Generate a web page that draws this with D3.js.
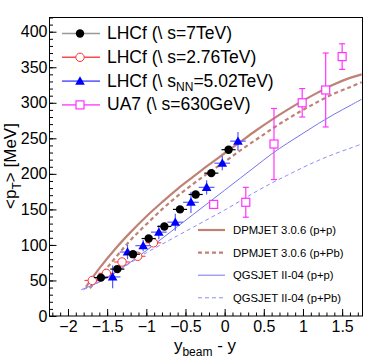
<!DOCTYPE html>
<html>
<head>
<meta charset="utf-8">
<script src="https://cdn.jsdelivr.net/npm/d3@7"></script>
<style>
  body { margin: 0; background: #fff; }
  svg { display: block; font-family: "Liberation Sans", Arial, sans-serif; }
</style>
</head>
<body>
<svg id="chart"></svg>
<script>
// LHCf measurements: bin centres in y_beam - y, <pT> in MeV, errors
const lhcf7X = [-1.58, -1.37, -1.17, -0.97, -0.77, -0.57, -0.37, -0.17, 0.05];
const lhcf7Y = [54, 66, 87, 109, 126, 150, 171, 201, 234];
const lhcf7Err = [3, 3, 3, 3, 3, 3, 3, 4, 4];

const lhcf276X = [-1.69, -1.51, -1.31, -1.11, -0.91];
const lhcf276Y = [50, 60, 76, 84, 103];
const lhcf276Err = [3, 3, 3, 3, 3];

const lhcf502X = [-1.43, -1.24, -1.04, -0.84, -0.63, -0.43, -0.23, -0.03, 0.17];
const lhcf502Y = [55, 90, 99, 118, 132, 160, 181, 215, 246];
const lhcf502Err = [16, 10, 8, 10, 12, 15, 10, 10, 13];

const ua7X = [-0.14, 0.27, 0.63, 0.99, 1.29, 1.50];
const ua7Y = [157, 160, 242, 300, 318, 365];
const ua7Err = [5, 21, 50, 20, 52, 18];

// model curves (x grid, value)
const dpmPPX = [-1.77, -1.6, -1.4, -1.2, -1.0, -0.8, -0.6, -0.4, -0.2, 0, 0.2, 0.4, 0.6, 0.8, 1.0, 1.2, 1.4, 1.6, 1.75];
const dpmPPY = [41, 67, 94, 118, 140, 160, 179, 196, 213, 229, 245, 261, 276, 290, 303, 315, 326, 335, 340];

const dpmPPbX = [-1.72, -1.5, -1.2, -1.0, -0.8, -0.6, -0.4, -0.2, 0, 0.2, 0.4, 0.6, 0.8, 1.0, 1.2, 1.4, 1.6, 1.75];
const dpmPPbY = [39, 68, 107, 129, 150, 169, 186, 202, 217, 233, 248, 263, 277, 290, 302, 313, 322, 329];

const qgsPPX = [-1.83, -1.6, -1.4, -1.2, -1.0, -0.8, -0.6, -0.4, -0.2, 0, 0.2, 0.4, 0.6, 0.8, 1.0, 1.2, 1.4, 1.6, 1.75];
const qgsPPY = [37, 48, 61, 76, 92, 109, 126, 143, 160, 177, 194, 211, 228, 243, 257, 271, 284, 296, 305];

const qgsPPbX = [-1.8, -1.6, -1.4, -1.2, -1.0, -0.8, -0.6, -0.4, -0.2, 0, 0.2, 0.4, 0.6, 0.8, 1.0, 1.2, 1.4, 1.6, 1.75];
const qgsPPbY = [37, 48, 61, 75, 89, 101, 113, 125, 137, 149, 162, 175, 187, 198, 209, 219, 228, 236, 242];

const xTicks = [-2, -1.5, -1, -0.5, 0, 0.5, 1, 1.5];
const yTicks = [0, 50, 100, 150, 200, 250, 300, 350, 400];

const W = 382, H = 364;
const frame = { left: 49.5, right: 362.5, top: 17.5, bottom: 316 };

const svg = d3.select("#chart").attr("width", W).attr("height", H);
svg.append("rect").attr("width", W).attr("height", H).attr("fill", "#fff");

const x = d3.scaleLinear().domain([-2.236, 1.76]).range([frame.left, frame.right]);
const y = d3.scaleLinear().domain([0, 420]).range([frame.bottom, frame.top]);

const fmt = d => (d < 0 ? "\u2212" + Math.abs(d) : String(d));

// minor ticks
svg.append("g")
    .attr("transform", `translate(0,${frame.bottom})`)
    .call(d3.axisBottom(x).tickValues(d3.range(-22, 18).map(v => v / 10)).tickSize(-3.5).tickFormat(""))
    .call(g => g.select(".domain").remove());
svg.append("g")
    .attr("transform", `translate(${frame.left},0)`)
    .call(d3.axisLeft(y).tickValues(d3.range(0, 421, 10)).tickSize(-3.5).tickFormat(""))
    .call(g => g.select(".domain").remove());

// major ticks with labels
const xAxis = svg.append("g")
    .attr("transform", `translate(0,${frame.bottom})`)
    .call(d3.axisBottom(x).tickValues(xTicks).tickSize(-7).tickPadding(5).tickFormat(fmt));
const yAxis = svg.append("g")
    .attr("transform", `translate(${frame.left},0)`)
    .call(d3.axisLeft(y).tickValues(yTicks).tickSize(-7).tickPadding(2).tickFormat(fmt));
[xAxis, yAxis].forEach(g => {
    g.select(".domain").remove();
    g.selectAll("text").style("font-size", "16px").attr("fill", "#000");
});

// frame
svg.append("rect")
    .attr("x", frame.left).attr("y", frame.top)
    .attr("width", frame.right - frame.left).attr("height", frame.bottom - frame.top)
    .attr("fill", "none").attr("stroke", "#000").attr("stroke-width", 1);

// model curves
const plot = svg.append("g");
const line = d3.line().x(d => x(d[0])).y(d => y(d[1])).curve(d3.curveCatmullRom);
const curves = [
    { xs: dpmPPX, ys: dpmPPY, color: "#bf8276", width: 2.2, dash: null },
    { xs: dpmPPbX, ys: dpmPPbY, color: "#bf8276", width: 2.2, dash: "4,3" },
    { xs: qgsPPX, ys: qgsPPY, color: "#7474ee", width: 1, dash: null },
    { xs: qgsPPbX, ys: qgsPPbY, color: "#8c8cf5", width: 1, dash: "4,3" }
];
curves.forEach(c => {
    plot.append("path")
        .datum(d3.zip(c.xs, c.ys))
        .attr("d", line)
        .attr("fill", "none")
        .attr("stroke", c.color)
        .attr("stroke-width", c.width)
        .attr("stroke-dasharray", c.dash);
});

// data series
function drawSeries(xs, ys, errs, opt) {
    const g = plot.append("g");
    xs.forEach((xv, i) => {
        const cx = x(xv), cy = y(ys[i]);
        if (opt.xerr) {
            g.append("line").attr("x1", x(xv - opt.xerr)).attr("x2", x(xv + opt.xerr))
                .attr("y1", cy).attr("y2", cy).attr("stroke", opt.barColor).attr("stroke-width", 1.2);
        }
        g.append("line").attr("x1", cx).attr("x2", cx)
            .attr("y1", y(ys[i] - errs[i])).attr("y2", y(ys[i] + errs[i]))
            .attr("stroke", opt.barColor).attr("stroke-width", 1.2);
        if (opt.caps) {
            [ys[i] - errs[i], ys[i] + errs[i]].forEach(v => {
                g.append("line").attr("x1", cx - 3).attr("x2", cx + 3)
                    .attr("y1", y(v)).attr("y2", y(v)).attr("stroke", opt.barColor).attr("stroke-width", 1.2);
            });
        }
        drawMarker(g, cx, cy, opt.marker, opt.color);
    });
}

function drawMarker(g, cx, cy, type, color) {
    if (type === "dot") {
        g.append("circle").attr("cx", cx).attr("cy", cy).attr("r", 4.2).attr("fill", color);
    } else if (type === "ring") {
        g.append("circle").attr("cx", cx).attr("cy", cy).attr("r", 4.2)
            .attr("fill", "#fff").attr("stroke", color).attr("stroke-width", 1);
    } else if (type === "tri") {
        g.append("path").attr("d", d3.symbol(d3.symbolTriangle, 40)()).attr("transform", `translate(${cx},${cy + 0.8})`)
            .attr("fill", color);
    } else if (type === "square") {
        g.append("rect").attr("x", cx - 4).attr("y", cy - 4).attr("width", 8).attr("height", 8)
            .attr("fill", "#fff").attr("stroke", color).attr("stroke-width", 1.2);
    }
}

drawSeries(lhcf276X, lhcf276Y, lhcf276Err, { xerr: 0.1, barColor: "#ff4a4a", color: "#ff3030", marker: "ring" });
drawSeries(lhcf502X, lhcf502Y, lhcf502Err, { xerr: 0.1, barColor: "#5a5aff", color: "#0000ff", marker: "tri" });
drawSeries(lhcf7X, lhcf7Y, lhcf7Err, { xerr: 0.09, barColor: "#000", color: "#000", marker: "dot" });
drawSeries(ua7X, ua7Y, ua7Err, { xerr: 0, barColor: "#ff33ff", color: "#ff33ff", marker: "square", caps: true });

// data legend (top left)
const dataLegend = [
    { label: "LHCf (\\ s=7TeV)", sub: null, line: "#999", color: "#000", marker: "dot" },
    { label: "LHCf (\\ s=2.76TeV)", sub: null, line: "#ff4a4a", color: "#ff3030", marker: "ring" },
    { label: "LHCf (\\ s", sub: ["NN", "=5.02TeV)"], line: "#6a6aff", color: "#0000ff", marker: "tri" },
    { label: "UA7 (\\ s=630GeV)", sub: null, line: "#ff66ff", color: "#ff33ff", marker: "square" }
];
const leg1 = svg.append("g");
dataLegend.forEach((d, i) => {
    const ly = 33.5 + i * 23.8;
    leg1.append("line").attr("x1", 62).attr("x2", 100).attr("y1", ly).attr("y2", ly)
        .attr("stroke", d.line).attr("stroke-width", 1.6);
    drawMarker(leg1, 80, ly, d.marker, d.color);
    const t = leg1.append("text").attr("x", 107).attr("y", ly + 5.5).style("font-size", "17.5px").text(d.label);
    if (d.sub) {
        t.append("tspan").attr("dy", 4).style("font-size", "12px").text(d.sub[0]);
        t.append("tspan").attr("dy", -4).text(d.sub[1]);
    }
});

// model legend (bottom right)
const modelLegend = ["DPMJET 3.0.6 (p+p)", "DPMJET 3.0.6 (p+Pb)", "QGSJET II-04 (p+p)", "QGSJET II-04 (p+Pb)"];
const leg2 = svg.append("g");
modelLegend.forEach((label, i) => {
    const ly = 230 + i * 22.6;
    const c = curves[i];
    leg2.append("line").attr("x1", 198).attr("x2", 225).attr("y1", ly).attr("y2", ly)
        .attr("stroke", c.color).attr("stroke-width", c.width).attr("stroke-dasharray", c.dash);
    leg2.append("text").attr("x", 233).attr("y", ly + 4).style("font-size", "11.3px").text(label);
});

// axis titles
const xt = svg.append("text").attr("x", 205).attr("y", 351).attr("text-anchor", "middle").style("font-size", "17px");
xt.append("tspan").text("y");
xt.append("tspan").attr("dy", 5).style("font-size", "12px").text("beam");
xt.append("tspan").attr("dy", -5).text(" - y");

const yt = svg.append("text").attr("transform", `translate(16,166) rotate(-90)`).attr("text-anchor", "middle").style("font-size", "17px");
yt.append("tspan").text("<p");
yt.append("tspan").attr("dy", 5).style("font-size", "12px").text("T");
yt.append("tspan").attr("dy", -5).text("> [MeV]");
</script>
</body>
</html>
